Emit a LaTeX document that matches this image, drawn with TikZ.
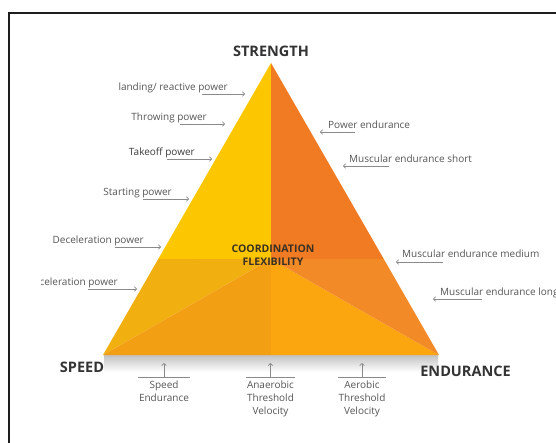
\documentclass[tikz,border=0pt]{standalone}
\usepackage{fontspec}
\setmainfont{Open Sans}
\usetikzlibrary{calc,arrows.meta}

\definecolor{topleft}{HTML}{FDC700}
\definecolor{topright}{HTML}{F07B22}
\definecolor{midleft}{HTML}{F2AF10}
\definecolor{lowleft}{HTML}{F29F14}
\definecolor{lowright}{HTML}{FBA50F}
\definecolor{midright}{HTML}{F28A27}
\definecolor{labelgray}{HTML}{555555}
\definecolor{darklabel}{HTML}{3A3A3A}
\definecolor{titlegray}{HTML}{333333}
\definecolor{linegray}{HTML}{8A8A8A}
\definecolor{framecol}{HTML}{1E1E1E}
\definecolor{coordcol}{HTML}{3A3124}

\begin{document}
\begin{tikzpicture}[x=1pt,y=-1pt,
  lbl/.style={font=\fontsize{10}{12.8}\selectfont, text=labelgray, inner sep=0pt},
  title/.style={font=\bfseries\fontsize{14.5}{17}\selectfont, text=titlegray, inner sep=0pt},
  pointer/.style={draw=linegray, line width=0.6pt, -{Straight Barb[length=2.2pt,width=4.6pt]}},
  baseline rule/.style={draw=linegray, line width=0.6pt}]
\useasboundingbox (0,0) rectangle (556,442);

% frame
\draw[framecol, line width=2pt] (9,450) -- (9,13) -- (560,13);

% corners of the pyramid and the points that split it
\coordinate (A) at (271,63);
\coordinate (L) at (103,355);
\coordinate (R) at (439,355);
\coordinate (M) at (271,259);
\coordinate (B) at (271,355);
\coordinate (ML) at ($(A)!0.6712!(L)$);
\coordinate (MR) at ($(A)!0.6712!(R)$);

% soft shadow under the base
\shade[top color=black!24, bottom color=white] (104,355) rectangle (438,372);

% the six facets
\fill[topleft]  (A) -- (ML) -- (M) -- cycle;
\fill[topright] (A) -- (M) -- (MR) -- cycle;
\fill[midleft]  (ML) -- (M) -- (L) -- cycle;
\fill[lowleft]  (L) -- (M) -- (B) -- cycle;
\fill[lowright] (M) -- (R) -- (B) -- cycle;
\fill[midright] (M) -- (MR) -- (R) -- cycle;

% corner titles
\node[title] (strength) at (271,51) {STRENGTH};
\node[title] (speed) at (82,367) {SPEED};
\node[title] (endurance) at (465.5,371) {ENDURANCE};

\node[font=\bfseries\fontsize{10.5}{13}\selectfont, text=coordcol, align=center, inner sep=0pt]
  (coord) at (273,255.5) {COORDINATION\\FLEXIBILITY};

% power qualities along the left edge
\node[lbl, anchor=mid east] (landing) at (228,88) {landing/ reactive power};
\coordinate (landing-tip) at (245,94);
\draw[pointer] ($(landing.mid east)+(-26,6)$) -- (landing-tip);

\node[lbl, anchor=mid east] (throwing) at (207,118) {Throwing power};
\coordinate (throwing-tip) at (225,124);
\draw[pointer] ($(throwing.mid east)+(-27,6)$) -- (throwing-tip);

\node[lbl, anchor=mid east, text=darklabel] (takeoff) at (195,153) {Takeoff power};
\coordinate (takeoff-tip) at (212,159);
\draw[pointer] ($(takeoff.mid east)+(-28,6)$) -- (takeoff-tip);

\node[lbl, anchor=mid east] (starting) at (172,193) {Starting power};
\coordinate (starting-tip) at (189,199);
\draw[pointer] ($(starting.mid east)+(-29,6)$) -- (starting-tip);

\node[lbl, anchor=mid east] (decel) at (144,241) {Deceleration power};
\coordinate (decel-tip) at (161,247);
\draw[pointer] ($(decel.mid east)+(-29,6)$) -- (decel-tip);

\begin{scope}
  \clip (41,270) rectangle (140,300);
  \node[lbl, anchor=mid east] (accel) at (118,283) {Acceleration power};
\end{scope}
\coordinate (accel-tip) at (137,289);
\draw[pointer] ($(accel.mid east)+(-30,6)$) -- (accel-tip);

% endurance qualities along the right edge
\node[lbl, anchor=mid west] (powend) at (328,126) {Power endurance};
\coordinate (powend-tip) at (320,132);
\draw[pointer] ($(powend.mid west)+(27,6)$) -- (powend-tip);

\node[lbl, anchor=mid west] (short) at (349,160) {Muscular endurance short};
\coordinate (short-tip) at (343,166);
\draw[pointer] ($(short.mid west)+(40,6)$) -- (short-tip);

\node[lbl, anchor=mid west] (medium) at (402,255) {Muscular endurance medium};
\coordinate (medium-tip) at (396,262);
\draw[pointer] ($(medium.mid west)+(41,7)$) -- (medium-tip);

\node[lbl, anchor=mid west] (long) at (440,293) {Muscular endurance long};
\coordinate (long-tip) at (433,299);
\draw[pointer] ($(long.mid west)+(42,6)$) -- (long-tip);

% velocities under the base
\node[lbl, align=center, anchor=north] (spend) at (164,381) {Speed\\Endurance};
\draw[baseline rule] ($(spend.north)+(-26,-4)$) -- ($(spend.north)+(26,-4)$);
\coordinate (spend-tip) at ($(spend.north)+(0,-18)$);
\draw[pointer] ($(spend.north)+(0,-4)$) -- (spend-tip);

\node[lbl, align=center, anchor=north] (anaer) at (270.5,381) {Anaerobic\\Threshold\\Velocity};
\draw[baseline rule] ($(anaer.north)+(-24.5,-4)$) -- ($(anaer.north)+(24.5,-4)$);
\coordinate (anaer-tip) at ($(anaer.north)+(0,-18)$);
\draw[pointer] ($(anaer.north)+(0,-4)$) -- (anaer-tip);

\node[lbl, align=center, anchor=north] (aer) at (362,381) {Aerobic\\Threshold\\Velocity};
\draw[baseline rule] ($(aer.north)+(-24,-4)$) -- ($(aer.north)+(24,-4)$);
\coordinate (aer-tip) at ($(aer.north)+(0,-18)$);
\draw[pointer] ($(aer.north)+(0,-4)$) -- (aer-tip);
\end{tikzpicture}
\end{document}
